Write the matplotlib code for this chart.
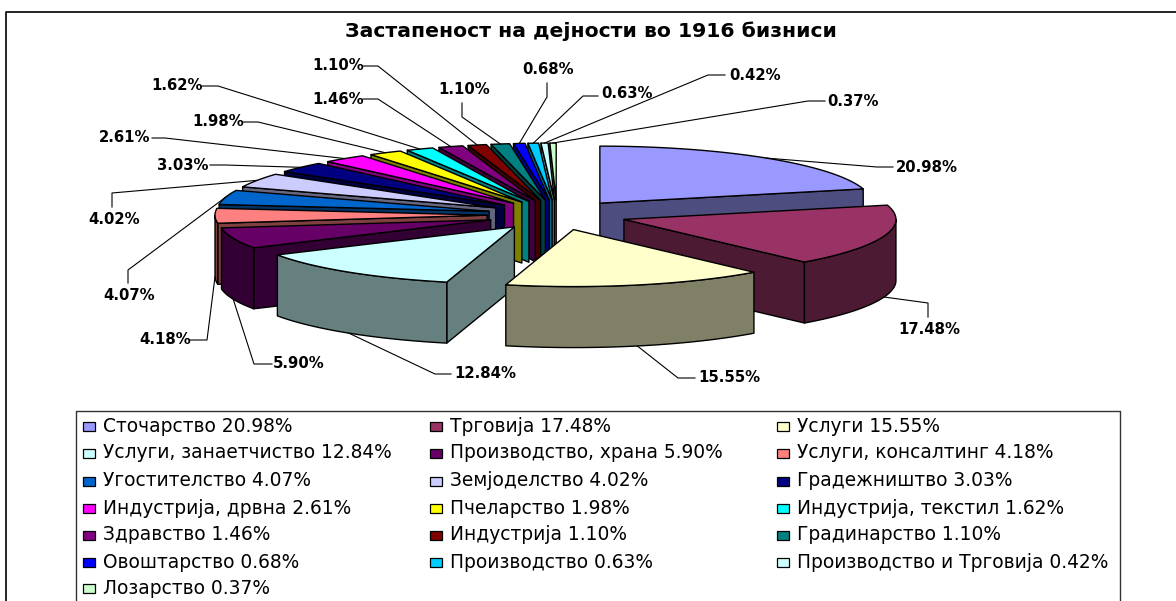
import numpy as np
import matplotlib
matplotlib.use("Agg")
import matplotlib.pyplot as plt
from matplotlib.patches import Polygon, Rectangle

plt.rcParams["font.family"] = ["DejaVu Sans"]

names = ["Сточарство", "Трговија", "Услуги", "Услуги, занаетчиство", "Производство, храна",
         "Услуги, консалтинг", "Угостителство", "Земјоделство", "Градежништво",
         "Индустрија, дрвна", "Пчеларство", "Индустрија, текстил", "Здравство", "Индустрија",
         "Градинарство", "Овоштарство", "Производство", "Производство и Трговија", "Лозарство"]
shares = [20.98, 17.48, 15.55, 12.84, 5.90, 4.18, 4.07, 4.02, 3.03, 2.61, 1.98, 1.62, 1.46,
          1.10, 1.10, 0.68, 0.63, 0.42, 0.37]
colors = ["#9999FF", "#993366", "#FFFFCC", "#CCFFFF", "#660066", "#FF8080", "#0066CC", "#CCCCFF",
          "#000080", "#FF00FF", "#FFFF00", "#00FFFF", "#800080", "#800000", "#008080", "#0000FF",
          "#00CCFF", "#CCFFFF", "#CCFFCC"]
title = "Застапеност на дејности во 1916 бизниси"

# pie projection, in pixels
CX, CY = 557, 215
RX, RY = 272, 57
EX, EY = 70, 15
DEPTH = 61

# label centre, then leader elbow points going from label to slice
label_layout = [
    ((927, 167), [(893, 167), (877, 167)]),
    ((929, 330), [(928, 317), (928, 303)]),
    ((729, 378), [(695, 378), (678, 378)]),
    ((485, 374), [(451, 374), (435, 374)]),
    ((299, 363), [(272, 364), (254, 364)]),
    ((165, 340), [(190, 340), (207, 340)]),
    ((129, 296), [(128, 283), (128, 270)]),
    ((114, 220), [(112, 207), (112, 193)]),
    ((183, 165), [(210, 165), (225, 165)]),
    ((125, 138), [(152, 138), (165, 138)]),
    ((218, 122), [(243, 122), (258, 122)]),
    ((177, 86), [(202, 86), (218, 86)]),
    ((338, 99), [(363, 99), (378, 99)]),
    ((338, 65), [(363, 66), (378, 66)]),
    ((464, 90), [(462, 103), (462, 117)]),
    ((548, 70), [(547, 83), (547, 97)]),
    ((627, 94), [(598, 96), (583, 96)]),
    ((755, 75), [(725, 75), (708, 75)]),
    ((853, 101), [(825, 101), (808, 101)]),
]

fig = plt.figure(figsize=(11.76, 6.01), dpi=100)
ax = fig.add_axes([0, 0, 1, 1])
ax.set_xlim(0, 1176)
ax.set_ylim(601, 0)
ax.axis("off")

cum = np.cumsum(shares) / sum(shares) * 360
starts = np.r_[0, cum[:-1]]
ends = cum


def rim(ox, oy, a0, a1, drop=0.0, n=60):
    t = np.radians(np.linspace(a0, a1, n))
    return np.c_[ox + RX * np.sin(t), oy - RY * np.cos(t) + drop]


def shade(c):
    return tuple(0.5 * v for v in matplotlib.colors.to_rgb(c))


def draw_slice(i, z):
    a0, a1 = starts[i], ends[i]
    mid = np.radians((a0 + a1) / 2)
    ox = CX + EX * np.sin(mid)
    oy = CY - EY * np.cos(mid)
    side = shade(colors[i])
    kw = dict(edgecolor="black", linewidth=1.0, joinstyle="round", zorder=z)
    # radial faces that look at the viewer
    for ang, visible in ((a0, np.sin(np.radians(a0)) < -1e-6), (a1, np.sin(np.radians(a1)) > 1e-6)):
        if visible:
            p = rim(ox, oy, ang, ang, n=1)[0]
            quad = [(ox, oy), tuple(p), (p[0], p[1] + DEPTH), (ox, oy + DEPTH)]
            ax.add_patch(Polygon(quad, facecolor=side, **kw))
    lo, hi = max(a0, 90), min(a1, 270)
    if lo < hi:
        top = rim(ox, oy, lo, hi)
        ax.add_patch(Polygon(np.r_[top, rim(ox, oy, hi, lo, DEPTH)], facecolor=side, **kw))
    wedge = np.r_[[(ox, oy)], rim(ox, oy, a0, a1)]
    ax.add_patch(Polygon(wedge, facecolor=colors[i], **kw))
    return ox, oy, mid


# back to front
order = [0] + list(range(18, 3, -1)) + [3, 1, 2]
anchors = {}
for z, i in enumerate(order):
    ox, oy, mid = draw_slice(i, 3 + z)
    front = np.cos(mid) < 0 and i < 6
    anchors[i] = (ox + RX * np.sin(mid), oy - RY * np.cos(mid) + (DEPTH if front else 0))

# outer frame runs off the right and bottom of the crop
ax.plot([6, 6, 1176], [601, 12, 12], color="black", lw=1.2, zorder=1)
ax.text(591, 31, title, ha="center", va="center", fontsize=14.7, fontweight="bold", zorder=40)

for i, (pos, elbow) in enumerate(label_layout):
    pts = np.array(elbow + [anchors[i]])
    ax.plot(pts[:, 0], pts[:, 1], color="black", lw=0.8, zorder=30)
    ax.text(pos[0], pos[1], f"{shares[i]:.2f}%", ha="center", va="center", fontsize=10.7,
            fontweight="bold", zorder=40)

# legend, the bottom is cut off in the source
ax.plot([76, 76, 1120, 1120], [601, 411, 411, 601], color="#333333", lw=1.0, zorder=1)
col_swatch = [83, 430, 777]
row_y = [426, 453, 481, 508, 535, 562, 588]
for i, name in enumerate(names):
    col, row = i % 3, i // 3
    x, y = col_swatch[col], row_y[row]
    ax.add_patch(Rectangle((x, y - 4.5), 12, 9, facecolor=colors[i], edgecolor="black", lw=0.9, zorder=20))
    ax.text(x + 20, y, f"{name} {shares[i]:.2f}%", ha="left", va="center", fontsize=13.4, zorder=40)

fig.savefig("out.png", dpi=100)
